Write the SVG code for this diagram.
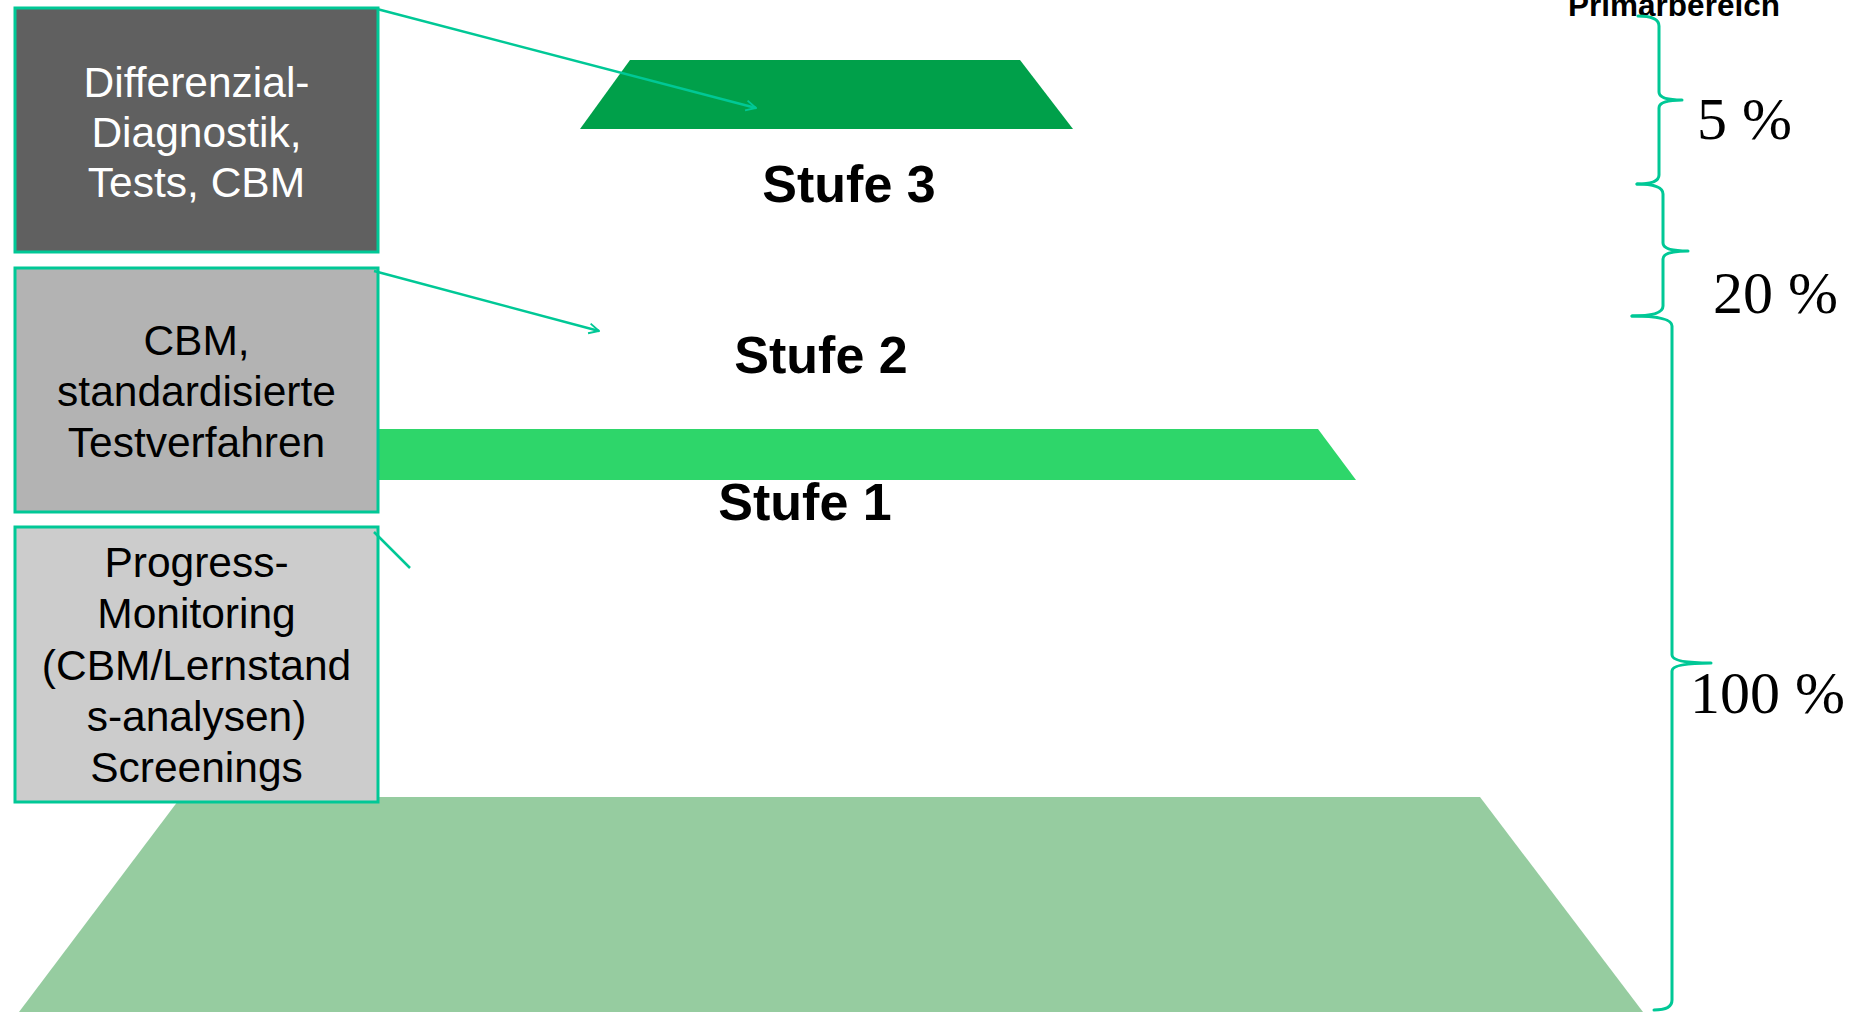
<svg xmlns="http://www.w3.org/2000/svg" width="1863" height="1012" viewBox="0 0 1863 1012">
<style>
.box{stroke:#00c896;stroke-width:3}
.bt{font-family:"Liberation Sans",Arial,sans-serif;font-size:42.5px;text-anchor:middle}
.st{font-family:"Liberation Sans",Arial,sans-serif;font-size:52px;font-weight:bold;text-anchor:middle;fill:#000}
.pc{font-family:"Liberation Serif","Times New Roman",serif;font-size:60px;fill:#000}
.con{stroke:#00c896;stroke-width:2.5;fill:none}
.brace{stroke:#00c896;stroke-width:3;fill:none;stroke-linecap:round;stroke-linejoin:round}
</style>
<defs>
<marker id="arr" viewBox="0 0 10 10" refX="9" refY="5" markerWidth="5" markerHeight="5" orient="auto" markerUnits="strokeWidth">
<path d="M1,1 L9,5 L1,9" fill="none" stroke="#00c896" stroke-width="1.5"/>
</marker>
</defs>
<rect width="1863" height="1012" fill="#ffffff"/>
<g id="levels">
<polygon id="stufe0-base" points="181,797 1480,797 1643,1012 19,1012" fill="#96cca0"/>
<polygon id="stufe1-bar" points="342,429 1318,429 1356,480 304,480" fill="#2ed66a"/>
<polygon id="stufe3-top" points="630,60 1020,60 1073,129 580,129" fill="#00a04a"/>
</g>
<g id="labels">
<text class="st" x="849" y="202">Stufe 3</text>
<text class="st" x="821" y="373">Stufe 2</text>
<text class="st" x="805" y="520">Stufe 1</text>
<text x="1674" y="16" font-family="Liberation Sans, Arial, sans-serif" font-size="31.5" font-weight="bold" text-anchor="middle">Primarbereich</text>
<text class="pc" x="1697" y="139">5 %</text>
<text class="pc" x="1713" y="313">20 %</text>
<text class="pc" x="1690" y="713">100 %</text>
</g>
<g id="node-box1">
<rect class="box" x="15" y="8" width="363" height="244" fill="#606060"/>
<text class="bt" fill="#ffffff"><tspan x="196.5" y="97">Differenzial-</tspan><tspan x="196.5" y="147">Diagnostik,</tspan><tspan x="196.5" y="197">Tests, CBM</tspan></text>
</g>
<g id="node-box2">
<rect class="box" x="15" y="268" width="363" height="244" fill="#b3b3b3"/>
<text class="bt" fill="#000000"><tspan x="196.5" y="355">CBM,</tspan><tspan x="196.5" y="406">standardisierte</tspan><tspan x="196.5" y="457">Testverfahren</tspan></text>
</g>
<g id="node-box3">
<rect class="box" x="15" y="527" width="363" height="275" fill="#cccccc"/>
<text class="bt" fill="#000000"><tspan x="196.5" y="577">Progress-</tspan><tspan x="196.5" y="628">Monitoring</tspan><tspan x="196.5" y="680">(CBM/Lernstand</tspan><tspan x="196.5" y="731">s-analysen)</tspan><tspan x="196.5" y="782">Screenings</tspan></text>
</g>
<g id="connectors">
<line class="con" x1="377" y1="9" x2="756" y2="108" marker-end="url(#arr)"/>
<line class="con" x1="374" y1="271" x2="599" y2="331" marker-end="url(#arr)"/>
<line class="con" x1="374" y1="532" x2="410" y2="568"/>
</g>
<g id="braces">
<path class="brace" d="M1638,16 Q1659,16 1659,26 L1659,92 Q1659,100 1682,100 Q1659,100 1659,108 L1659,175 Q1659,184 1637,184"/>
<path class="brace" d="M1637,184 Q1663,184 1663,194 L1663,243 Q1663,251 1688,251 Q1663,251 1663,259 L1663,306 Q1663,316 1632,316"/>
<path class="brace" d="M1632,316 Q1672,316 1672,326 L1672,655 Q1672,663 1711,663 Q1672,663 1672,671 L1672,1000 Q1672,1010 1654,1010"/>
</g>
</svg>
